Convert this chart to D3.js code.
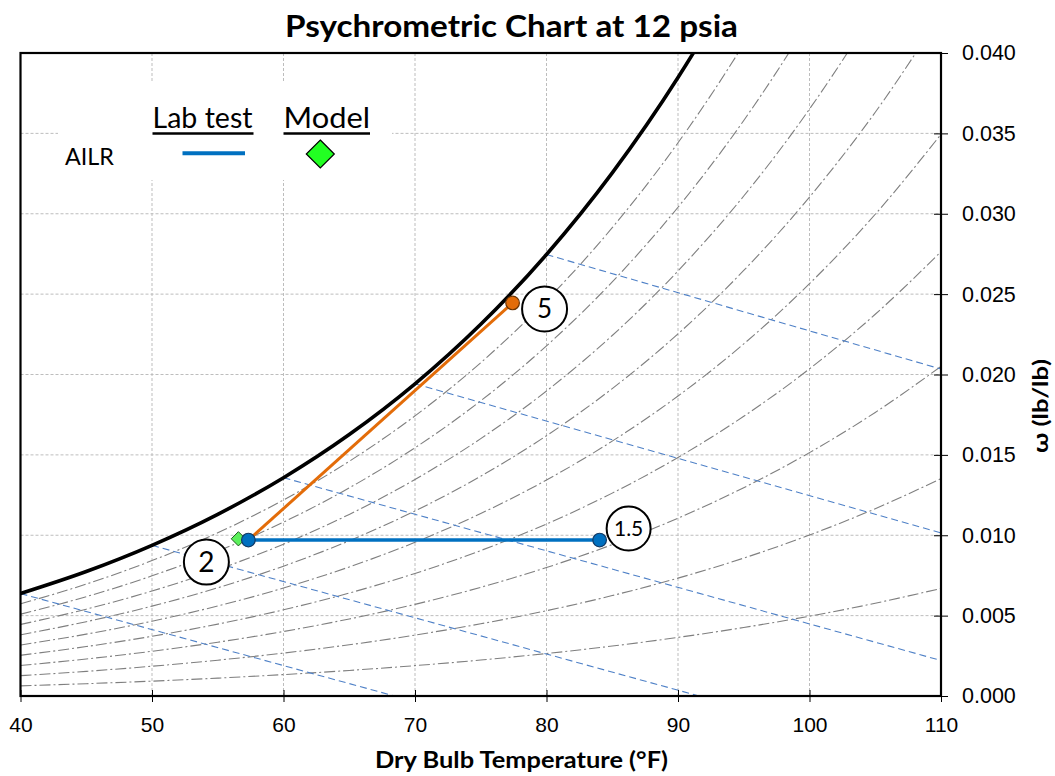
<!DOCTYPE html>
<html>
<head>
<meta charset="utf-8">
<script src="https://cdn.jsdelivr.net/npm/d3@7"></script>
<style>
  html, body { margin: 0; padding: 0; background: #fff; }
  svg { display: block; }
</style>
</head>
<body>
<svg id="chart" width="1055" height="776"></svg>
<script>
// Barometric pressure of the chart (psia)
const pressurePsia = 12;

// Saturation vapour pressure of water (psia) at dry-bulb temperature (°F)
const tableTempF = [40, 45, 50, 55, 60, 65, 70, 75, 80, 85, 90, 95, 100, 105, 110];
const tablePsat  = [0.12173, 0.14756, 0.17813, 0.21413, 0.25640, 0.30581, 0.36334,
                    0.43016, 0.50745, 0.59659, 0.69904, 0.81643, 0.95052, 1.1032, 1.2766];

// Relative-humidity curves and wet-bulb lines shown on the chart
const rhLevels = [0.1, 0.2, 0.3, 0.4, 0.5, 0.6, 0.7, 0.8, 0.9];
const wetBulbF = [40, 50, 60, 70, 80];

// Axis ticks
const xTickValues = [40, 50, 60, 70, 80, 90, 100, 110];
const yTickValues = [0, 0.005, 0.010, 0.015, 0.020, 0.025, 0.030, 0.035, 0.040];

// AILR state points: lab test (cooling line) and model
const labStateNames = ["2", "1.5"];
const labStateTemp  = [57.33, 84.04];
const labStateOmega = [0.0097, 0.0097];
const processNames  = ["2", "5"];
const processTemp   = [57.33, 77.42];
const processOmega  = [0.0097, 0.02445];
const modelTemp     = [56.57];
const modelOmega    = [0.00978];

// Humidity ratio from vapour partial pressure
const omegaFromPv = pv => 0.622 * pv / (pressurePsia - pv);
const psatAt = t => tablePsat[tableTempF.indexOf(t)];

const svg = d3.select("#chart");
const m = { left: 20.5, right: 941, top: 53, bottom: 696 };

const x = d3.scaleLinear().domain([40, 110]).range([m.left, m.right]);
const y = d3.scaleLinear().domain([0, 0.040]).range([m.bottom, m.top]);

const defs = svg.append("defs");
defs.append("clipPath").attr("id", "plotClip")
  .append("rect")
  .attr("x", m.left).attr("y", m.top)
  .attr("width", m.right - m.left).attr("height", m.bottom - m.top);

// Gridlines
const grid = svg.append("g").attr("class", "grid");
grid.selectAll("line.v").data(xTickValues.slice(1, -1)).join("line")
  .attr("x1", d => x(d)).attr("x2", d => x(d))
  .attr("y1", m.top).attr("y2", m.bottom)
  .attr("stroke", "#bdbdbd").attr("stroke-width", 1).attr("stroke-dasharray", "3,2");
grid.selectAll("line.h").data(yTickValues.slice(1, -1)).join("line")
  .attr("x1", m.left).attr("x2", m.right)
  .attr("y1", d => y(d)).attr("y2", d => y(d))
  .attr("stroke", "#bdbdbd").attr("stroke-width", 1).attr("stroke-dasharray", "3,2");

// Legend backdrop
svg.append("rect")
  .attr("x", 58).attr("y", 83).attr("width", 334).attr("height", 97)
  .attr("fill", "#fff");

const plot = svg.append("g").attr("clip-path", "url(#plotClip)");

const curve = d3.line()
  .x(d => x(d.t)).y(d => y(d.w))
  .curve(d3.curveMonotoneX);

// Relative humidity curves
rhLevels.forEach(phi => {
  const pts = tableTempF.map((t, i) => ({ t, w: omegaFromPv(phi * tablePsat[i]) }));
  plot.append("path").datum(pts)
    .attr("d", curve)
    .attr("fill", "none")
    .attr("stroke", "#7f7f7f").attr("stroke-width", 1.1)
    .attr("stroke-dasharray", "11,3,2,3");
});

// Wet-bulb lines
wetBulbF.forEach(twb => {
  const ws = omegaFromPv(psatAt(twb));
  const wAt = t => ((1093 - 0.556 * twb) * ws - 0.240 * (t - twb)) / (1093 + 0.444 * t - twb);
  const tZero = twb + (1093 - 0.556 * twb) * ws / 0.240;
  const tEnd = Math.min(110, tZero);
  const pts = [{ t: twb, w: ws }, { t: tEnd, w: Math.max(0, wAt(tEnd)) }];
  plot.append("path").datum(pts)
    .attr("d", d3.line().x(d => x(d.t)).y(d => y(d.w)))
    .attr("fill", "none")
    .attr("stroke", "#4f81c7").attr("stroke-width", 1.1)
    .attr("stroke-dasharray", "7,4");
});

// Saturation curve
const satPts = tableTempF.map((t, i) => ({ t, w: omegaFromPv(tablePsat[i]) }));
plot.append("path").datum(satPts)
  .attr("d", curve)
  .attr("fill", "none")
  .attr("stroke", "#000").attr("stroke-width", 3.6);

// Plot frame
svg.append("rect")
  .attr("x", m.left).attr("y", m.top)
  .attr("width", m.right - m.left).attr("height", m.bottom - m.top)
  .attr("fill", "none").attr("stroke", "#000").attr("stroke-width", 2.2);

// Bottom axis
const xAxis = svg.append("g")
  .attr("transform", `translate(0,${m.bottom})`)
  .call(d3.axisBottom(x).tickValues(xTickValues).tickSize(6).tickPadding(15).tickFormat(d3.format("d")));
xAxis.select(".domain").remove();
xAxis.selectAll(".tick line").attr("y1", -6).attr("stroke", "#000").attr("stroke-width", 1);
xAxis.selectAll(".tick text")
  .attr("font-family", "'Liberation Sans', Arial, sans-serif")
  .attr("font-size", 21).attr("fill", "#000");

// Right axis
const yAxis = svg.append("g")
  .attr("transform", `translate(${m.right},0)`)
  .call(d3.axisRight(y).tickValues(yTickValues).tickSize(7).tickPadding(14).tickFormat(d3.format(".3f")));
yAxis.select(".domain").remove();
yAxis.selectAll(".tick line").attr("x1", -7).attr("stroke", "#000").attr("stroke-width", 1);
yAxis.selectAll(".tick text")
  .attr("font-family", "'Liberation Sans', Arial, sans-serif")
  .attr("font-size", 21.5).attr("fill", "#000");

// Titles
svg.append("text")
  .attr("x", 511.5).attr("y", 36.5)
  .attr("text-anchor", "middle")
  .attr("font-family", "Lato, 'Open Sans', sans-serif").attr("font-weight", 700)
  .attr("font-size", 31)
  .attr("textLength", 453).attr("lengthAdjust", "spacingAndGlyphs")
  .text("Psychrometric Chart at 12 psia");

svg.append("text")
  .attr("x", 521.5).attr("y", 767.5)
  .attr("text-anchor", "middle")
  .attr("font-family", "Lato, 'Open Sans', sans-serif").attr("font-weight", 700)
  .attr("font-size", 22)
  .attr("textLength", 293).attr("lengthAdjust", "spacingAndGlyphs")
  .text("Dry Bulb Temperature (°F)");

svg.append("text")
  .attr("transform", "translate(1047.5,406) rotate(-90)")
  .attr("text-anchor", "middle")
  .attr("font-family", "Lato, 'Open Sans', sans-serif").attr("font-weight", 700)
  .attr("font-size", 21)
  .attr("textLength", 94).attr("lengthAdjust", "spacingAndGlyphs")
  .text("ω (lb/lb)");

// Legend
const lg = svg.append("g").attr("font-family", "Lato, 'Open Sans', sans-serif").attr("fill", "#000");
lg.append("text").attr("x", 152.5).attr("y", 127.5).attr("font-size", 29)
  .attr("textLength", 100).attr("lengthAdjust", "spacingAndGlyphs").text("Lab test");
lg.append("line").attr("x1", 152.5).attr("x2", 253.5).attr("y1", 133.5).attr("y2", 133.5)
  .attr("stroke", "#000").attr("stroke-width", 2.6);
lg.append("text").attr("x", 283.5).attr("y", 127.5).attr("font-size", 29)
  .attr("textLength", 86.5).attr("lengthAdjust", "spacingAndGlyphs").text("Model");
lg.append("line").attr("x1", 283.5).attr("x2", 370).attr("y1", 133.5).attr("y2", 133.5)
  .attr("stroke", "#000").attr("stroke-width", 2.6);
lg.append("text").attr("x", 65).attr("y", 165).attr("font-size", 23)
  .attr("textLength", 49).attr("lengthAdjust", "spacingAndGlyphs").text("AILR");
lg.append("line").attr("x1", 182.5).attr("x2", 245).attr("y1", 153.3).attr("y2", 153.3)
  .attr("stroke", "#0070c0").attr("stroke-width", 4);
lg.append("path").attr("transform", "translate(320.3,154)")
  .attr("d", d3.symbol(d3.symbolDiamond2, 500)())
  .attr("fill", "#22ff22").attr("stroke", "#000").attr("stroke-width", 1.2);

// Process line 2 -> 5
const proc = processTemp.map((t, i) => ({ t, w: processOmega[i], name: processNames[i] }));
svg.append("path").datum(proc)
  .attr("d", d3.line().x(d => x(d.t)).y(d => y(d.w)))
  .attr("stroke", "#e36c09").attr("stroke-width", 3).attr("fill", "none");

// Lab test line 2 -> 1.5
const lab = labStateTemp.map((t, i) => ({ t, w: labStateOmega[i], name: labStateNames[i] }));
svg.append("path").datum(lab)
  .attr("d", d3.line().x(d => x(d.t)).y(d => y(d.w)))
  .attr("stroke", "#0070c0").attr("stroke-width", 3.5).attr("fill", "none");

// Model point
modelTemp.forEach((t, i) => {
  svg.append("path")
    .attr("transform", `translate(${x(t)},${y(modelOmega[i])})`)
    .attr("d", d3.symbol(d3.symbolDiamond2, 130)())
    .attr("fill", "#5cf05c").attr("stroke", "#1f5a1f").attr("stroke-width", 1);
});

// State point markers
svg.selectAll("circle.lab").data(lab).join("circle")
  .attr("cx", d => x(d.t)).attr("cy", d => y(d.w)).attr("r", 6.8)
  .attr("fill", "#0070c0").attr("stroke", "#123a66").attr("stroke-width", 1.2);
svg.append("circle")
  .attr("cx", x(proc[1].t)).attr("cy", y(proc[1].w)).attr("r", 6.8)
  .attr("fill", "#e36c09").attr("stroke", "#6b3300").attr("stroke-width", 1.2);

// State number callouts (offset from their markers)
const callouts = [
  { name: "5",   t: proc[1].t, w: proc[1].w, dx: 32,  dy: 6,     r: 22.5, size: 26 },
  { name: "2",   t: lab[0].t,  w: lab[0].w,  dx: -42, dy: 22,    r: 22.5, size: 28 },
  { name: "1.5", t: lab[1].t,  w: lab[1].w,  dx: 29,  dy: -11.5, r: 22,   size: 21 }
];
const cg = svg.selectAll("g.callout").data(callouts).join("g")
  .attr("transform", d => `translate(${x(d.t) + d.dx},${y(d.w) + d.dy})`);
cg.append("circle").attr("r", d => d.r)
  .attr("fill", "#fff").attr("stroke", "#000").attr("stroke-width", 2);
cg.append("text")
  .attr("text-anchor", "middle").attr("dy", "0.36em")
  .attr("font-family", "Lato, 'Open Sans', sans-serif")
  .attr("font-size", d => d.size)
  .text(d => d.name);
</script>
</body>
</html>
